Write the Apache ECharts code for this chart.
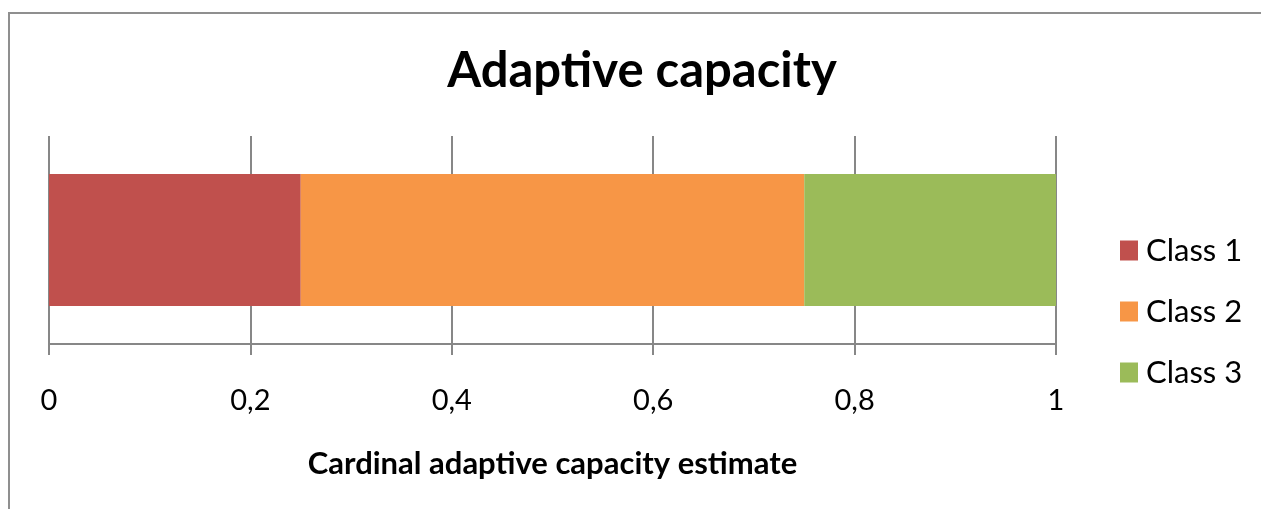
<!DOCTYPE html>
<html>
<head>
<meta charset="utf-8">
<script src="https://cdn.jsdelivr.net/npm/echarts@6/dist/echarts.min.js"></script>
<style>html,body{margin:0;padding:0;background:#fff;}#c{width:1261px;height:509px;}</style>
</head>
<body>
<div id="c"></div>
<script>
const categories = ['Adaptive capacity'];
const seriesNames = ['Class 1', 'Class 2', 'Class 3'];
const class1 = [0.25];
const class2 = [0.5];
const class3 = [0.25];
const xTicks = ['0', '0,2', '0,4', '0,6', '0,8', '1'];
const colors = ['#C0504D', '#F79646', '#9BBB59'];

const chart = echarts.init(document.getElementById('c'));
const font = 'Lato, "Open Sans", sans-serif';
const values = [class1, class2, class3];
chart.setOption({
  animation: false,
  backgroundColor: '#fff',
  graphic: [{
    type: 'rect', shape: {x: 9, y: 13, width: 1400, height: 700},
    style: {fill: 'none', stroke: '#8f8f8f', lineWidth: 2}, silent: true
  }],
  title: {
    text: 'Adaptive capacity', left: 637, top: 42, textAlign: 'center',
    textStyle: {fontFamily: font, fontWeight: 'bold', fontSize: 49, color: '#000'}
  },
  legend: {
    orient: 'vertical', left: 1115, top: 230, itemWidth: 18, itemHeight: 20, itemGap: 30,
    icon: 'rect', data: seriesNames,
    textStyle: {fontFamily: font, fontSize: 31, color: '#000', padding: [0, 0, 0, 3]}
  },
  grid: {left: 49, right: 1261 - 1056, top: 136, bottom: 509 - 344, containLabel: false},
  xAxis: {
    type: 'value', min: 0, max: 1, interval: 0.2,
    name: 'Cardinal adaptive capacity estimate', nameLocation: 'middle', nameGap: 104,
    nameTextStyle: {fontFamily: font, fontWeight: 'bold', fontSize: 31, color: '#000'},
    axisLine: {show: true, lineStyle: {color: '#878787', width: 2}},
    axisTick: {show: true, length: 11, lineStyle: {color: '#878787', width: 2}},
    splitLine: {show: true, lineStyle: {color: '#878787', width: 2}},
    axisLabel: {
      margin: 42, fontFamily: font, fontSize: 29, color: '#000',
      formatter: function (v) { return xTicks[Math.round(v / 0.2)]; }
    }
  },
  yAxis: {
    type: 'category', data: categories,
    axisLine: {show: false}, axisTick: {show: false}, axisLabel: {show: false}, splitLine: {show: false}
  },
  series: seriesNames.map((n, i) => ({
    name: n, type: 'bar', stack: 'total', data: values[i], barWidth: 132,
    itemStyle: {color: colors[i]}
  }))
});
</script>
</body>
</html>
